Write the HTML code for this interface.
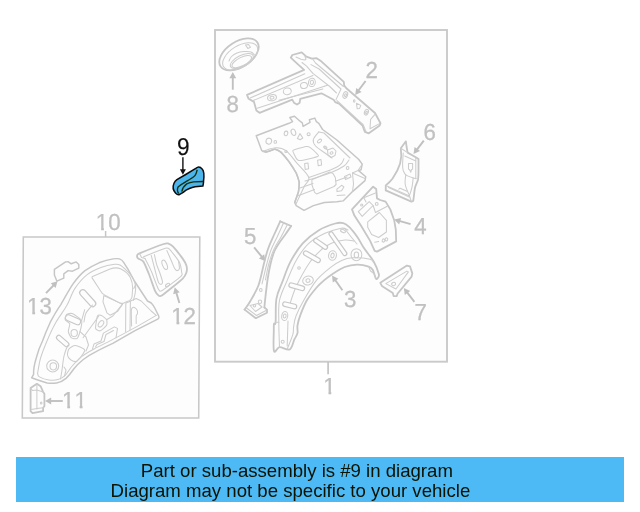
<!DOCTYPE html>
<html><head><meta charset="utf-8"><title>Part diagram</title>
<style>
html,body{margin:0;padding:0;background:#fff;}
body{width:640px;height:512px;overflow:hidden;position:relative;font-family:"Liberation Sans",sans-serif;}
svg{position:absolute;left:0;top:0;display:block;will-change:transform;}
.g{fill:none;stroke:#c6c6c6;stroke-width:1.8;stroke-linejoin:round;stroke-linecap:round;}
.t{fill:none;stroke:#cdcdcd;stroke-width:1.05;stroke-linejoin:round;stroke-linecap:round;}
.m{fill:none;stroke:#c6c6c6;stroke-width:1.45;stroke-linejoin:round;stroke-linecap:round;}
.k{fill:none;stroke:#111;stroke-width:1.4;stroke-linejoin:round;stroke-linecap:round;}
.n{font-family:"Liberation Sans",sans-serif;font-size:23.2px;fill:#c1c1c1;stroke:#c1c1c1;stroke-width:0.3;text-rendering:geometricPrecision;}
.b{font-family:"Liberation Sans",sans-serif;font-size:18.6px;fill:#0a1200;}
</style></head>
<body>
<svg width="640" height="512" viewBox="0 0 640 512">
<defs>
<clipPath id="c1"><path d="M0 -21H8.4V1H5.55V-2.2H0Z"/></clipPath>
<clipPath id="c11"><path d="M0 -21H8.4V1H5.55V-2.2H0Z M12.7 -21H21.3V1H18.45V-2.2H12.7Z"/></clipPath>
<clipPath id="c1x"><path d="M0 -21H8.4V1H5.55V-2.2H0Z M12.6 -21H40V2H12.6Z"/></clipPath>
</defs>
<rect x="0" y="0" width="640" height="512" fill="#fff"/>
<rect x="215" y="30" width="232" height="331.7" fill="#fdfdfd" stroke="#cacaca" stroke-width="1.9"/>
<path d="M23.3 237 L199.8 237 L198.7 418 L22.3 418 Z" fill="#fdfdfd" stroke="#c8c8c8" stroke-width="1.55" stroke-linejoin="miter"/>
<path d="M328.1 362 V374.2" stroke="#c4c4c4" stroke-width="1.7"/>
<path d="M105.6 231 V237" stroke="#c6c6c6" stroke-width="1.5"/>
<rect x="16" y="457" width="608" height="45" fill="#4dbaf6"/>
<text class="b" x="140.8" y="477">Part or sub-assembly is #9 in diagram</text>
<text class="b" x="110.6" y="497">Diagram may not be specific to your vehicle</text>
<text class="n" transform="translate(226.4 112) scale(0.96 1)">8</text>
<text class="n" transform="translate(365.4 78) scale(0.96 1)">2</text>
<text class="n" transform="translate(423.6 140) scale(0.96 1)">6</text>
<text class="n" transform="translate(414.3 234) scale(0.96 1)">4</text>
<text class="n" transform="translate(244 244) scale(0.96 1)">5</text>
<text class="n" transform="translate(343.9 307) scale(0.96 1)">3</text>
<text class="n" transform="translate(414.4 320) scale(0.96 1)">7</text>
<text class="n" transform="translate(323.2 394) scale(0.96 1)" clip-path="url(#c1)">1</text>
<text class="n" transform="translate(95.8 230) scale(0.96 1)" clip-path="url(#c1x)">10</text>
<text class="n" transform="translate(27 314) scale(0.96 1)" clip-path="url(#c1x)">13</text>
<text class="n" transform="translate(171.2 324) scale(0.96 1)" clip-path="url(#c1x)">12</text>
<text class="n" transform="translate(62 408) scale(0.96 1)" style="font-kerning:none" clip-path="url(#c11)">11</text>
<text class="n" transform="translate(177.1 155) scale(0.93 1)" style="font-size:24.4px;fill:#111;stroke:#111;stroke-width:0.15">9</text>
<path d="M232.8 89.7 L232.8 77.2" stroke="#c0c0c0" stroke-width="1.9" fill="none"/><path d="M232.8 72 L236.2 78.2 L229.4 78.2 Z" fill="#c0c0c0"/>
<path d="M365.6 81 L358.3 90.8" stroke="#c0c0c0" stroke-width="1.9" fill="none"/><path d="M355.2 95 L356.2 88 L361.6 92.1 Z" fill="#c0c0c0"/>
<path d="M423.8 140.6 L416.7 149.9" stroke="#c0c0c0" stroke-width="1.9" fill="none"/><path d="M413.5 154 L414.6 147 L420 151.1 Z" fill="#c0c0c0"/>
<path d="M410.6 224.2 L399.2 220.9" stroke="#c0c0c0" stroke-width="1.9" fill="none"/><path d="M394.2 219.5 L401.1 217.9 L399.2 224.5 Z" fill="#c0c0c0"/>
<path d="M254.1 247.3 L262.2 257.2" stroke="#c0c0c0" stroke-width="1.9" fill="none"/><path d="M265.5 261.2 L258.9 258.6 L264.2 254.2 Z" fill="#c0c0c0"/>
<path d="M342.4 290.2 L335 279.8" stroke="#c0c0c0" stroke-width="1.9" fill="none"/><path d="M332 275.6 L338.4 278.7 L332.8 282.6 Z" fill="#c0c0c0"/>
<path d="M414.4 301.9 L406.9 292.1" stroke="#c0c0c0" stroke-width="1.9" fill="none"/><path d="M403.8 288 L410.2 290.9 L404.8 295 Z" fill="#c0c0c0"/>
<path d="M46 293.1 L53.9 285" stroke="#c0c0c0" stroke-width="1.9" fill="none"/><path d="M57.5 281.2 L55.6 288.1 L50.7 283.3 Z" fill="#c0c0c0"/>
<path d="M179.4 303 L176.2 292.3" stroke="#c0c0c0" stroke-width="1.9" fill="none"/><path d="M174.7 287.3 L179.7 292.3 L173.2 294.2 Z" fill="#c0c0c0"/>
<path d="M62.8 401 L50.2 401" stroke="#c0c0c0" stroke-width="1.9" fill="none"/><path d="M45 401 L51.2 397.6 L51.2 404.4 Z" fill="#c0c0c0"/>
<path d="M182.9 157.2 L182.9 170.2" stroke="#111" stroke-width="1.4" fill="none"/><path d="M182.9 174.7 L179.9 169.2 L185.9 169.2 Z" fill="#111"/>
<path d="M174 183.2 C172.8 186 172.8 190 175.5 193 C177 194.6 178.8 195 179.7 194.4 C181 193.6 182 193 183.2 192.3 C185 190.8 186.8 189.6 188.8 188.8 C191 187.8 193 187.1 195.1 186.7 L202.9 186 C203.4 184 203.6 182.4 203.6 180.4 C203.9 178 204 175.6 203.8 173.3 C203.6 171.6 203 170 202.2 169.1 C201.2 167.8 200 167 198.6 167 C197.6 167 196.8 167.6 195.8 168.4 L185.3 174.75 L176.9 179.7 C175.6 180.6 174.6 181.8 174 183.2 Z" fill="#4cb6ec" stroke="#0b0b0b" stroke-width="1.5" stroke-linejoin="round"/>
<path d="M178.6 193.6 C177 191 177.2 188.6 178.3 186.7 C181 184.4 185 182.4 188.1 180.4 C191 178.8 193.6 177.4 195.1 175.4 C196.6 173.4 196.6 171.6 197.2 169.8" fill="none" stroke="#10300c" stroke-width="1.35"/>
<path d="M181.8 191.6 C182.4 188.6 184.4 185.6 186.7 183.9 C189 182.6 191.4 182 193.7 181.8 L203 181.5" fill="none" stroke="#10300c" stroke-width="1.35"/>
<ellipse class="g" cx="239" cy="54.4" rx="22" ry="12.6" transform="rotate(-33 239 54.4)"/>
<ellipse class="t" cx="240.2" cy="56.4" rx="19.6" ry="10.6" transform="rotate(-32 240.2 56.4)"/>
<path class="t" d="M229 61 C229.4 60.2 230.2 57.8 231.5 56.5 C232.8 55.2 234.9 53.8 237 53 C239.1 52.2 241.7 51.8 244 51.6 C246.3 51.4 249.2 51.4 251 52 C252.8 52.6 253.9 54.5 254.5 55"/>
<ellipse class="t" cx="241.8" cy="61" rx="12.6" ry="5.6" transform="rotate(-27 241.8 61)"/>
<ellipse class="t" cx="241.8" cy="61.6" rx="10.8" ry="4.2" transform="rotate(-27 241.8 61.6)"/>
<path class="t" d="M245.5 45 L248.5 44.5 L250.5 47.2 L247.8 48.4 Z"/>
<path class="g" d="M247 94.9 L304.1 69.9 L294.7 61.3 L290.8 57.7 L292.3 55 L301.7 52.4 L306.4 56.6 L311.9 58.6 L316.6 58.2 L321.3 61.3 L343.8 81.8 L344.2 85.7 L346.9 88.8 L375 113 L380.5 123.2 L379.7 125.5 L368.8 133.3 L364.8 131.8 L362.5 125.5 L339 103.7 L335.2 102.1 L333.6 99.8 L321.9 93.5 L321.3 93.3 L300.2 98.8 L299.7 102.7 L297 104.6 L293.9 102.7 L292.3 99.6 L259.5 112.8 L256.4 110.5 L254 101.9 L248.6 98.8 Z"/>
<path class="t" d="M250.2 98 L304.8 73.8"/>
<path class="t" d="M252.6 100.8 L312.9 75.4"/>
<path class="t" d="M257.2 108.2 L324.4 86.3"/>
<path class="t" d="M279 100.3 L322.8 88.9"/>
<path class="t" d="M302 62.5 L306.6 66.2 L312.9 73.4 L329.8 86.5 L336.5 93"/>
<path class="t" d="M324.4 86.3 L327.5 85.2"/>
<path class="t" d="M296 57.1 L301 59.2 L304.8 60 L306 59.2 L304.8 55.9"/>
<path class="t" d="M311 64.6 L319.1 69 L341 89 L336 99.6"/>
<path class="t" d="M313 59.5 L315.5 63 L343.5 86.5"/>
<path class="t" d="M337 100.6 L363.2 124.6 L366 131.6"/>
<path class="t" d="M375 114.4 L370.6 119.4 L370 128.8 L379.5 123.6"/>
<ellipse class="t" cx="272" cy="97.7" rx="4.5" ry="3" transform="rotate(-10 272 97.7)"/>
<ellipse class="t" cx="272" cy="97.7" rx="2" ry="1.4" transform="rotate(-10 272 97.7)"/>
<ellipse class="t" cx="287.3" cy="91.3" rx="4" ry="3.3" transform="rotate(-15 287.3 91.3)"/>
<ellipse class="t" cx="304" cy="85.5" rx="3.5" ry="3" transform="rotate(-10 304 85.5)"/>
<ellipse class="t" cx="311.9" cy="82.4" rx="3.4" ry="4.2" transform="rotate(10 311.9 82.4)"/>
<ellipse class="t" cx="311.9" cy="82.4" rx="1.6" ry="2.2" transform="rotate(10 311.9 82.4)"/>
<ellipse class="t" cx="345.3" cy="95" rx="2.2" ry="3.4" transform="rotate(20 345.3 95)"/>
<ellipse class="t" cx="345.5" cy="95.2" rx="0.9" ry="1.5" transform="rotate(20 345.5 95.2)"/>
<ellipse class="t" cx="354.2" cy="101" rx="0.8" ry="1.2"/>
<ellipse class="t" cx="366.4" cy="112.2" rx="1.9" ry="3" transform="rotate(20 366.4 112.2)"/>
<ellipse class="t" cx="366.5" cy="112.5" rx="0.8" ry="1.3" transform="rotate(20 366.5 112.5)"/>
<path class="t" d="M356.4 103.2 L360.8 105.4 L359.6 108.4 L357.2 108.8 Z"/>
<path class="m" d="M256.2 135.8 L289 123.3 L292.6 121.6 L289.8 117.5 L294.5 116.2 L300 121.2 L302.3 122.8 L303.1 126.4 L310 122.3 L309.4 119.7 L314.8 118.1 L316.4 121.7 L318.8 123.3 L322.6 129.5 L336.9 140 L358.8 159.5 L362.2 164.2 L361.1 169.7 L358.6 170.6 L365.8 176.7 L365 180.6 L352.5 191.6 L343.1 200.9 L336.9 201.7 L324.4 202.5 L313.4 205.6 L304 210.3 L296.2 205.6 L294.7 202.5 L298.6 191.6 L299.4 182.2 L296.2 172.8 L289 161.6 L281.2 152.2 L275 149 L265.6 152.2 L261.7 150.6 Z"/>
<path class="m" d="M263 151.4 C263.8 151.4 266 151.9 268 151.6 C270 151.3 272.8 149.3 275 149.4 C277.2 149.5 278.7 150.3 281 152.4 C283.3 154.5 286.5 158.4 289 161.8 C291.5 165.2 294.3 169.4 296 172.8 C297.7 176.2 298.6 178.9 299 182 C299.4 185.1 299.1 188.2 298.4 191.6 C297.7 195 295.3 200.7 294.7 202.5"/>
<path class="t" d="M263.5 151 C265.6 150.5 272.1 147.9 275.8 147.8 C279.6 147.7 282.5 148.1 286 150.6 C289.5 153.1 293.1 158.6 296.9 163.1 C300.7 167.6 307.6 173.5 308.8 177.5 C309.9 181.5 306.1 182.5 304 186.9 C301.9 191.3 297.3 201.2 296 204"/>
<path class="t" d="M308.8 177.5 L329 170.5"/>
<path class="t" d="M329 170.5 C330.3 169.9 334.9 168.2 337 167 C339.1 165.8 340.5 164.8 341.6 163.4 C342.8 162 343.5 159.5 343.9 158.8"/>
<path class="t" d="M305 181 C309.2 179.7 323.5 175.5 330 173 C336.5 170.5 340.8 168.2 344 166 C347.2 163.8 348.2 161 349 160"/>
<path class="t" d="M318.8 131.9 C317.8 133.2 313.8 137.3 313.3 139.7 C312.8 142 313.7 143.8 315.6 146 C317.6 148.2 322.3 151 325 153 C327.7 155 330.8 157.2 332 158"/>
<path class="t" d="M318.8 131.9 L324 133 L350 158"/>
<path class="t" d="M292.8 151 C292.7 150.1 293.7 150 295 149.6 C296.3 149.2 304.8 146.7 306.2 146.5 C307.8 146.3 308.9 146.6 310 147.4 C311.1 148.2 316.8 153.5 317.6 154.4 C318.4 155.3 319.1 156 317.6 156.6 C316.2 157.2 305 159.8 303.1 160.2 C301.2 160.6 299.3 160.6 298.6 160.4 C297.9 160.2 297 159.5 296.4 158.6 C295.8 157.7 292.9 151.9 292.8 151 Z"/>
<path class="t" d="M311.9 179.8 L329.8 172 L333 173.4 L335.3 177.5 L336.1 184.5 L334 186.5 L316.6 193.9 L314.6 192.4 L312 185 Z"/>
<path class="t" d="M336.9 189.2 L341.6 185.3 L343.9 186.9 L341.6 190.8 L337 191.6 Z"/>
<path class="t" d="M300 188 L313 183.5"/>
<path class="t" d="M297.5 196 L314.5 189.5"/>
<path class="t" d="M336 181 L347 177"/>
<path class="t" d="M337 195.5 L345 195"/>
<path class="t" d="M352.5 173 L358 170.5 L362.2 164.2"/>
<path class="t" d="M352.5 173 L353.5 184 L352.5 191.6"/>
<path class="t" d="M352.5 173 L365 178.5"/>
<path class="t" d="M344.5 176.5 L350 174 L351 177 L345.5 179.5 Z"/>
<ellipse class="t" cx="268.8" cy="141.2" rx="2.8" ry="3" transform="rotate(15 268.8 141.2)"/>
<ellipse class="t" cx="275.3" cy="141.9" rx="1.3" ry="1.4"/>
<ellipse class="t" cx="286" cy="133.4" rx="1.8" ry="2.3" transform="rotate(10 286 133.4)"/>
<ellipse class="t" cx="293.4" cy="132.3" rx="2.2" ry="3.3" transform="rotate(-20 293.4 132.3)"/>
<ellipse class="t" cx="308.6" cy="134.2" rx="1.5" ry="1.4"/>
<ellipse class="t" cx="319.5" cy="141" rx="2.4" ry="1.4" transform="rotate(-35 319.5 141)"/>
<ellipse class="t" cx="347.6" cy="168" rx="1.3" ry="1.5"/>
<path class="t" d="M300 133.6 L302.8 138 L300.2 139.8 L297.4 138.6 Z"/>
<path class="t" d="M304.6 163.5 L308 163 L308.6 168.8 L305.2 169.4 Z"/>
<path class="t" d="M317.6 160.3 L321 159.5 L321.6 165 L318.2 165.8 Z"/>
<path class="t" d="M327.5 150 L333 148 L336 151 L335 155.5 L331 157.5 L328 155 Z"/>
<ellipse class="t" cx="331.5" cy="153" rx="1.5" ry="1.2" transform="rotate(-20 331.5 153)"/>
<path class="t" d="M324 146.5 L327.5 150"/>
<ellipse class="t" cx="325.3" cy="147.5" rx="1.2" ry="1.8" transform="rotate(-50 325.3 147.5)"/>
<ellipse class="t" cx="286" cy="151.5" rx="1.2" ry="1"/>
<path class="g" d="M405.9 141.3 L400.8 148.3 C401.6 153 401.6 158 400.1 163.5 C398.6 168.6 396 173.6 392.6 178.5 C390.4 181.4 388 183.6 385.75 185.4 L385.75 190.4 L411.4 201.6 L413.25 201 L413.9 196 C414.2 193 414.5 190 415.1 187.25 C416 184.4 417.4 182 418 179.75 C418.5 177 418.5 174 418.5 171 L418.5 159.1 L415.75 157.25 L407.6 152.6 L406.6 147 Z"/>
<path class="t" d="M400.8 148.3 L407.6 152.6"/>
<path class="t" d="M385.8 185.4 L409.5 196 L411.4 201.6"/>
<path class="t" d="M388.5 187.6 L409.3 197"/>
<path class="t" d="M398.9 189.1 L400.1 188.2 L407 191.2"/>
<path class="t" d="M403.2 152.9 C403.2 153.6 403 156.4 402.9 158 C402.8 159.6 402.6 163.1 402.6 164.8 C402.6 166.4 402.8 169.1 403.2 170.4 C403.7 171.7 404.4 173.8 405.8 174.8 C407.1 175.8 411.8 177.4 413.2 177.9 C414.7 178.4 416 178.6 416.4 178.8"/>
<path class="t" d="M405.8 174.8 C405.6 176.2 404.9 181 405.1 183.5 C405.3 186 406.3 188 407 190 C407.7 192 409.1 194.5 409.5 195.4"/>
<path class="t" d="M413.2 177.9 C413 179.5 412.6 184.3 412 187.2 C411.4 190.2 409.9 194 409.5 195.4"/>
<path class="t" d="M415.8 157.9 L415.8 177.9"/>
<path class="t" d="M404.8 156 L415.8 161"/>
<path class="t" d="M408.5 163.5 L412.6 163.5 L412.6 169.1 L411.4 169.8 L410.8 172.2 L409.6 169.8 L408.5 169.1 Z"/>
<path class="g" d="M352 209.4 L373.1 186.7 L376.2 189 L377 198.4 L380.2 200 L385.6 201.6 L390.3 209.4 L394.2 220.3 L395.8 229.7 L396.2 241.4 L377 251.6 L374.7 250.8 L370 240.6 L360.6 225 L354.4 215.6 Z"/>
<path class="t" d="M358.3 211.7 L369.2 201.6 L373.1 205.5 L362.2 216.4 Z"/>
<path class="t" d="M367.7 221.9 L379.4 212.5 L386.4 220.3 L386.4 232 L378.6 237.5 L371.6 234.4 L367.7 227.3 Z"/>
<ellipse class="t" cx="361.7" cy="205" rx="1.1" ry="1.1"/>
<ellipse class="t" cx="376.7" cy="203.9" rx="1.4" ry="1.4"/>
<ellipse class="t" cx="383.5" cy="240.5" rx="1.3" ry="1.6" transform="rotate(20 383.5 240.5)"/>
<ellipse class="t" cx="386.4" cy="239.4" rx="1.3" ry="1.6" transform="rotate(20 386.4 239.4)"/>
<path class="t" d="M363.8 197.7 L375.5 193"/>
<path class="t" d="M373.1 205.5 L375.5 212.5 L387.2 206.2"/>
<path class="t" d="M374.7 242.2 L378.6 241.4"/>
<path class="t" d="M363.8 197.7 L366 202"/>
<path class="g" d="M380.3 282.8 L406.9 265.6 L410 266.4 L412.3 273.4 L411.6 276.6 L397.5 293.8 L396.7 296.1 L393.6 296.1 L392.8 293 L381.9 285.9 Z"/>
<path class="t" d="M385.8 283.6 L406.9 271.1 L408.4 271.9 L395.9 289 Z"/>
<ellipse class="t" cx="393.6" cy="284" rx="2" ry="1.7" transform="rotate(-20 393.6 284)"/>
<path class="g" d="M274 351.1 C273 348.2 273.8 334.6 273.8 330 C273.8 325.4 273.7 325.1 274 323.8 C274.3 322.4 275.2 326.4 275.6 322.2 C276 318 275.3 305.4 276.4 298.8 C277.5 292.1 279.9 288.2 282.3 282 C284.7 275.8 287.1 268.1 290.5 261.7 C293.9 255.3 298 248.7 302.7 243.4 C307.4 238.2 313.5 233.5 318.9 230.2 C324.3 226.9 331.1 224.7 335.2 223.5 C339.3 222.3 340.9 222.5 343.3 223.1 C345.7 223.7 347 224.8 349.4 227.2 C351.8 229.6 355.1 233.9 357.5 237.3 C359.9 240.7 360.9 243.4 363.6 247.5 C366.3 251.6 371.2 257.3 373.8 261.7 C376.3 266.1 378.1 271.2 378.8 273.9 C379.5 276.6 378.3 277.2 377.8 278 C377.3 278.8 376.7 279.8 375.8 278.4 C374.9 277 373.9 271.8 372.7 269.8 C371.5 267.8 371.3 267.5 368.7 266.6 C366.1 265.7 361.2 264.5 357.2 264.6 C353.2 264.7 348.9 265.4 344.7 267 C340.5 268.6 335.6 272 332.2 274.2 C328.8 276.4 326.7 278.1 324 280.4 C321.3 282.7 319.1 284.7 316.2 288 C313.4 291.3 309.5 295.9 306.9 300.3 C304.3 304.7 302.2 310.2 300.6 314.4 C299 318.6 298 322.2 297.5 325.3 C297 328.4 298 330.8 297.5 333.1 C297 335.5 295.7 336.7 294.4 339.4 C293.1 342.1 292.2 348.2 289.7 349.5 C287.2 350.8 282.1 346.9 279.5 347.2 C276.9 347.5 275 354 274 351.1 Z"/>
<path class="t" d="M279.5 347.2 C279.4 343 278.8 330 278.8 322.2 C278.8 314.4 278.1 307.3 279.5 300.3 C280.9 293.3 284.5 286.8 287.4 280 C290.2 273.2 293 265.8 296.6 259.7 C300.2 253.6 304 247.8 308.8 243.4 C313.5 239 319.6 235.8 325 233.3 C330.4 230.8 337.4 228.8 341.2 228.2 C345.1 227.6 346.9 229.7 348 230"/>
<path class="t" d="M373.5 262.5 C372.9 261.9 373.5 260 370 259.2 C366.5 258.4 357.2 257.6 352.5 257.8 C347.8 258 345.2 258.8 341.6 260.4 C338 262 334.8 264.1 330.6 267.4 C326.4 270.7 321.1 274.7 316.6 280.2 C312.1 285.7 307.2 294.3 303.8 300.3 C300.3 306.3 297.7 311.6 296 316 C294.3 320.4 294.1 323.8 293.6 326.9 C293.1 330 293.9 331.1 292.8 334.7 C291.8 338.3 288.2 346.4 287.3 348.8"/>
<path class="t" d="M275.6 322.2 L278.8 322.2"/>
<ellipse class="t" cx="284.7" cy="316" rx="3" ry="4.6" transform="rotate(10 284.7 316)"/>
<ellipse class="t" cx="284.7" cy="316" rx="1.4" ry="2" transform="rotate(10 284.7 316)"/>
<ellipse class="t" cx="282.7" cy="341.7" rx="1.5" ry="1.5"/>
<ellipse class="t" cx="308" cy="280.5" rx="5.4" ry="4.4" transform="rotate(-15 308 280.5)"/>
<ellipse class="t" cx="308" cy="280.6" rx="2" ry="1.8" transform="rotate(-15 308 280.6)"/>
<ellipse class="t" cx="332.5" cy="255.5" rx="3.9" ry="4.8" transform="rotate(10 332.5 255.5)"/>
<ellipse class="t" cx="332.5" cy="255.5" rx="1.6" ry="2.4" transform="rotate(10 332.5 255.5)"/>
<ellipse class="t" cx="356.4" cy="254.7" rx="5.4" ry="6"/>
<ellipse class="t" cx="356.4" cy="254.9" rx="2.2" ry="2.9"/>
<ellipse class="t" cx="299" cy="268" rx="1.3" ry="1.3"/>
<ellipse class="t" cx="343" cy="231" rx="2.6" ry="1.4" transform="rotate(25 343 231)"/>
<path class="t" d="M289 307 C290.2 303.7 292.5 294.5 296 287 C299.5 279.5 305.7 268.3 310 262 C314.3 255.7 320 251.2 322 249"/>
<path class="t" d="M322 249 C323.7 248 328.2 244.5 332 243 C335.8 241.5 341.3 240.3 345 240 C348.7 239.7 352.5 240.8 354 241"/>
<path class="t" d="M345 229 C346.2 230.5 350 235.5 352 238 C354 240.5 356.2 243 357 244"/>
<path class="t" d="M368.7 266.8 L370.5 271 L374 273.5 L375.8 278.4"/>
<path class="t" d="M288 321 L287.2 346"/>
<path d="M291.2 285.2 L302.3 288.3" stroke="#c8c8c8" stroke-width="5.8" stroke-linecap="round" fill="none"/><path d="M291.2 285.2 L302.3 288.3" stroke="#fdfdfd" stroke-width="3.4" stroke-linecap="round" fill="none"/>
<path d="M285 304.2 L294.4 306.5" stroke="#c8c8c8" stroke-width="5.8" stroke-linecap="round" fill="none"/><path d="M285 304.2 L294.4 306.5" stroke="#fdfdfd" stroke-width="3.4" stroke-linecap="round" fill="none"/>
<path d="M305.8 253.2 L318 260.2" stroke="#c8c8c8" stroke-width="5.8" stroke-linecap="round" fill="none"/><path d="M305.8 253.2 L318 260.2" stroke="#fdfdfd" stroke-width="3.4" stroke-linecap="round" fill="none"/>
<path d="M315.8 240.6 L325.4 247.2" stroke="#c8c8c8" stroke-width="5.4" stroke-linecap="round" fill="none"/><path d="M315.8 240.6 L325.4 247.2" stroke="#fdfdfd" stroke-width="3" stroke-linecap="round" fill="none"/>
<path d="M331 233.8 L344.8 253.6" stroke="#c8c8c8" stroke-width="5.2" stroke-linecap="round" fill="none"/><path d="M331 233.8 L344.8 253.6" stroke="#fdfdfd" stroke-width="2.8" stroke-linecap="round" fill="none"/>
<path class="g" d="M280.2 221.3 C279.2 223.5 276.2 230 274.2 234.5 C272.2 239 269.9 243.8 268.2 248.5 C266.5 253.2 265.8 256.4 264.2 262.5 C262.6 268.6 260.9 278.6 258.6 285 C256.3 291.4 252.7 296.9 250.4 301 C248.1 305.1 245.6 308.2 244.6 309.6"/>
<path class="g" d="M244.6 309.6 L255.8 318.2 L267 312.8 L267 309.6 L264.4 307.5"/>
<path class="g" d="M264.4 307.5 C264.5 306.4 264.5 305.7 265 301 C265.5 296.3 266.7 285.7 267.6 279.5 C268.5 273.3 269.4 268.8 270.5 264 C271.6 259.2 273 254.6 274.5 251 C276 247.4 277.6 245.4 279.5 242.5 C281.4 239.6 284.1 236.2 286 233.5 C287.9 230.8 290.3 227.2 291.2 226"/>
<path class="g" d="M291.2 226 L280.2 221.3"/>
<path class="t" d="M283.6 222.8 C282.6 225 279.7 231.5 277.6 236 C275.5 240.5 272.8 245.3 271 250 C269.2 254.7 268.3 258.3 266.8 264 C265.3 269.7 262.8 280.7 262 284"/>
<path class="t" d="M287.4 224.4 C286.4 226.4 283.7 231.9 281.4 236.2 C279.1 240.5 275.7 245.4 273.6 250 C271.5 254.6 270.2 259 268.8 264 C267.4 269 266 277.3 265.4 280"/>
<path class="t" d="M246.5 308 L256.5 315.5 L266 310.5"/>
<path class="t" d="M250 305.5 L258 303.5 L262 307 L255.5 311.5 Z"/>
<ellipse class="t" cx="260.8" cy="290" rx="1.3" ry="1.5"/>
<ellipse class="t" cx="260" cy="301.8" rx="1.7" ry="1.7"/>
<ellipse class="t" cx="254.5" cy="305.8" rx="1.2" ry="1.2"/>
<path class="m" d="M54.4 269.4 L65.6 261.9 L68.4 261.8 L71.2 263.8 L76.2 261.9 L78.8 264.4 L78.8 268.1 L72.5 271.2 L68.1 270.6 L63.8 273.8 L63.8 278.1 L56.9 281.2 L54.4 275 Z"/>
<path class="g" d="M137.2 255.3 C137.4 254.7 136.4 254.7 139.5 253.4 C142.6 252.1 160.4 245.1 163.8 244 C167.1 242.9 167.3 243.3 168.4 243.6 C169.5 243.9 171.5 245 173.1 246.7 C174.7 248.4 180.9 256.2 182.5 258.4 C184.1 260.6 185.9 263.9 186.4 265.5 C186.9 267.1 186.9 271 186.4 272.5 C185.9 274 185.3 276.1 182.5 278.8 C179.7 281.4 165 293.3 162.2 295.2 C159.4 297.1 159.1 295.7 158.3 295.2 C157.5 294.7 156.3 293.7 155.2 291.2 C154.1 288.8 150.3 277.5 148.9 274 C147.5 270.5 144.7 263.4 143.4 261.6 C142.1 259.8 138.7 259.1 138 258.4 C137.3 257.7 137 255.9 137.2 255.3 Z"/>
<path class="t" d="M143.4 256.9 C146 255.9 162.2 249.1 165.3 248.3 C168.4 247.5 168.4 248.2 170 249.8 C171.6 251.4 178 259.7 179.4 262.3 C180.8 264.9 181.5 270.9 181.7 272.5 C181.9 274.1 183.2 274.3 180.9 276.4 C178.6 278.5 164.8 289 162.2 290.5 C159.6 292 159.6 291.2 158.3 288.9 C157 286.6 152.8 274.5 151.2 271 C149.7 267.5 145.7 260 145 258.5"/>
<ellipse class="t" cx="164.7" cy="264.8" rx="2.2" ry="5" transform="rotate(-22 164.7 264.8)"/>
<path class="t" d="M166.9 250.6 C167.6 252.2 169.7 257 171 260 C172.3 263 173.7 266.8 174.7 268.6 C175.7 270.4 176.2 270.6 177 270.6 C177.8 270.6 179.1 270.1 179.4 268.6 C179.7 267.1 178.7 262.7 178.6 261.5"/>
<path class="t" d="M151.2 255.3 C151.8 257.4 153.3 263.6 154.5 268 C155.7 272.4 157.3 279.2 158.3 281.9 C159.3 284.6 159.9 284.2 160.6 284.2 C161.3 284.2 162.7 283.9 162.5 281.9 C162.3 279.9 160.5 274.9 159.5 272 C158.5 269.1 157.5 267.6 156.7 264.7 C155.8 261.8 154.8 256.2 154.4 254.5"/>
<ellipse class="t" cx="167.5" cy="285" rx="2.4" ry="1.2" transform="rotate(-35 167.5 285)"/>
<path class="t" d="M139.5 253.4 L141.5 257.5 L145 258.5"/>
<path class="m" d="M31.6 377.8 L33.6 374.4 C33.4 370 34.4 364 36.25 358 C38 351 40 346 42.5 341 C45 334 47.6 328 50.3 322.2 C53.6 316 57 310 61 304.4 C64.6 298 68.4 291 72.5 284.7 C76 279.6 80 274.6 85 270.6 C89.4 267.4 94 265 99 262.8 C103.6 261 108.4 259.6 113.1 258.9 C115.4 258.6 117.6 258.5 119.4 258.9 C121.4 259.6 123 261 124 262.8 C125.6 265.6 127.2 268 128.75 270.6 L134.4 281 L147.5 301 L151.25 303 C152.8 304.6 154 306.4 155 308.5 L158.75 316 C159.2 317.4 158.9 318.2 158.2 318.8 L135 330.6 L112.8 343.3 C107 346 101 348.8 95.6 351.9 C91 354.2 86.6 356.8 83 359.7 C79.6 362.4 76.4 365.6 73.75 369 C71.4 372.4 68.8 375.8 66 378.4 C63.2 380.8 60 382.6 56.6 383 C53.4 383.4 50.2 383.4 47.2 383 C43.8 382 40.8 381 37.8 380 Z"/>
<path class="t" d="M37.6 373.4 C38.1 370.8 39 363.4 40.6 358 C42.2 352.6 44.5 346.9 47 341 C49.5 335.1 52.5 328.5 55.8 322.6 C59.1 316.7 63.6 311.3 66.8 305.6 C70 299.9 71.4 293.8 74.8 288.6 C78.2 283.4 82.8 278.1 87.2 274.6 C91.6 271.1 96.3 269.2 100.9 267.5 C105.5 265.8 111.5 264.7 114.7 264.3 C117.9 263.9 118.2 264.1 120 265 C121.8 265.9 123.3 267.4 125.4 269.4 C127.5 271.4 130.7 274.4 132.4 277.2 C134.1 280 135.2 283.4 135.6 286.2 C136 289.1 135.4 291.7 135 294 C134.6 296.3 133.7 299.2 133.4 300.3"/>
<path class="t" d="M156.2 315.4 C152.7 317.4 142.3 323.6 135 327.6 C127.7 331.6 119.3 336 112.5 339.6 C105.7 343.2 99.2 346.2 94 349 C88.8 351.8 85.2 353.8 81.6 356.6 C78 359.4 74.9 362.9 72.2 366 C69.5 369.1 67.6 373 65.2 375.3 C62.8 377.6 60.7 378.8 58 379.6 C55.3 380.4 51.9 380.4 48.8 380 C45.6 379.6 41.3 378 39.4 376.9 C37.5 375.8 37.9 374 37.6 373.4"/>
<path class="g" d="M30.6 388.1 L36.9 383.8 L40.6 386.2 L43.1 391.9 L44.4 393.8 L44.4 406.2 L43.1 407.8 L43.1 411.2 L32.5 413.1 L30.6 411.2 Z"/>
<path class="t" d="M36.9 383.8 L36.9 409"/>
<path class="t" d="M30.6 388.1 L32.5 390.5 L36.9 390 L43.1 391.9"/>
<path class="t" d="M31.5 409.5 L36.9 408.5 L43.1 407.8"/>
<ellipse class="t" cx="41.2" cy="403" rx="0.8" ry="1"/>
<path class="t" d="M92.6 276.4 L110 268.9 C114 267.6 118 267.6 121 269 C125 271 128.6 274.4 130.3 277.4 C131.8 280.4 132.6 284 132.7 288 L132 297 C131.6 299.4 130 300.6 127 301.6 L123.4 303.2 C122 303.6 120.6 303.4 119 302.6 L103.6 294.4 C102.4 293.6 101.6 292.6 100.8 291.2 L92.4 278.4 C91.8 277.4 91.8 276.8 92.6 276.4 Z"/>
<path class="t" d="M103.8 295.6 L122.5 304.2 L117.8 311.2 L110 315.2 L106.9 312.8 L103 301.9 Z"/>
<path d="M82.8 292.8 L92.6 303.6" stroke="#c8c8c8" stroke-width="7.4" stroke-linecap="round" fill="none"/><path d="M82.8 292.8 L92.6 303.6" stroke="#fdfdfd" stroke-width="5" stroke-linecap="round" fill="none"/>
<path d="M68.4 317.8 L77.6 321.8" stroke="#c8c8c8" stroke-width="7.2" stroke-linecap="round" fill="none"/><path d="M68.4 317.8 L77.6 321.8" stroke="#fdfdfd" stroke-width="4.8" stroke-linecap="round" fill="none"/>
<path d="M58.8 337.6 L66.6 344.4" stroke="#c8c8c8" stroke-width="5.8" stroke-linecap="round" fill="none"/><path d="M58.8 337.6 L66.6 344.4" stroke="#fdfdfd" stroke-width="3.4" stroke-linecap="round" fill="none"/>
<path class="t" d="M97.5 316 C98.1 314.7 100.6 315.1 101.5 315.5 C102.4 315.9 106.1 318.8 106.6 319.8 C107.1 320.8 107.2 324.2 106.6 325.3 C106 326.4 101.4 330.5 100.3 330.8 C99.2 331.1 95.9 329.9 95.6 328.4 C95.3 326.9 96.9 317.3 97.5 316 Z"/>
<ellipse class="t" cx="101" cy="323.8" rx="2.2" ry="3.6" transform="rotate(35 101 323.8)"/>
<path class="t" d="M125.8 303.5 L125.6 331.6"/>
<path class="t" d="M130.4 301 L130 329.8"/>
<path class="t" d="M131.6 326 C131.6 324.1 131.1 311.9 131.4 309.8 C131.7 307.6 133.1 307.2 133.8 307.2 C134.4 307.2 136.5 309 136.9 309.8 C137.3 310.5 137.6 312.8 137.5 313.5 C137.4 314.2 136.4 314.8 136.2 316 C136.1 317.2 136.2 322.6 136.2 323.5"/>
<path class="t" d="M126.2 302.9 L136.2 298.5 L141.2 301 L151.2 311 L156.2 315.4"/>
<path class="t" d="M133.8 288.5 L136.2 283.5"/>
<ellipse class="t" cx="52.7" cy="366" rx="6" ry="6"/>
<ellipse class="t" cx="53.3" cy="366.3" rx="3.3" ry="3.6"/>
<path class="t" d="M66.7 314.4 C67.4 313.8 70.7 313 72.2 313.6 C73.7 314.2 80.8 318.8 81.6 320.6 C82.4 322.4 80.5 329.8 80 331.6 C79.5 333.4 77.8 338 76.9 338.6 C76 339.2 72.3 338.5 71.4 337.8 C70.5 337.1 68.5 333 68.3 331.6 C68.1 330.2 70.1 324.9 69.8 323.8 C69.5 322.6 65.5 320.7 65.2 319.8 C64.9 318.9 66 315 66.7 314.4 Z"/>
<ellipse class="t" cx="74.2" cy="333.1" rx="3.2" ry="3.6"/>
<path class="t" d="M69 348.8 C69.9 347.7 73.5 345.4 75.3 345.6 C77.1 345.8 84.5 348.5 84.7 350.3 C84.9 352.1 78.5 360.2 76.9 361.2 C75.3 362.3 71.7 360.4 70.6 359.7 C69.5 359 67.7 356.3 67.5 355 C67.3 353.7 68.1 349.8 69 348.8 Z"/>
<path class="t" d="M92.5 348.8 L94 344 L101 341 L103.4 333.1 L114.4 326.9 L117.5 328.4 L116 337.8"/>
<path class="t" d="M95.5 347 L97 344.5 L104 341.5 L106 334.5 L113.5 330.5"/>
<path class="t" d="M84.7 309.7 L81.6 320.6"/>
<path class="t" d="M98.8 316 L83.1 337.8"/>
<path class="t" d="M92.5 305 C91.4 306.3 87.4 310.2 86 313 C84.6 315.8 84.3 320.5 84 322"/>
<path class="t" d="M122.5 304.2 L112.8 316 L106.6 319.8"/>
<path class="t" d="M67.5 345.6 C66.9 347.3 64.9 351.9 64 356 C63.1 360.1 62.6 366.2 62 370 C61.4 373.8 60.8 377.5 60.5 379"/>
<path class="t" d="M64 367 L66 370 L64.5 376"/>
<path class="t" d="M80 331.6 L86 337 L88.5 345 L86 351"/>
</svg>
</body></html>
